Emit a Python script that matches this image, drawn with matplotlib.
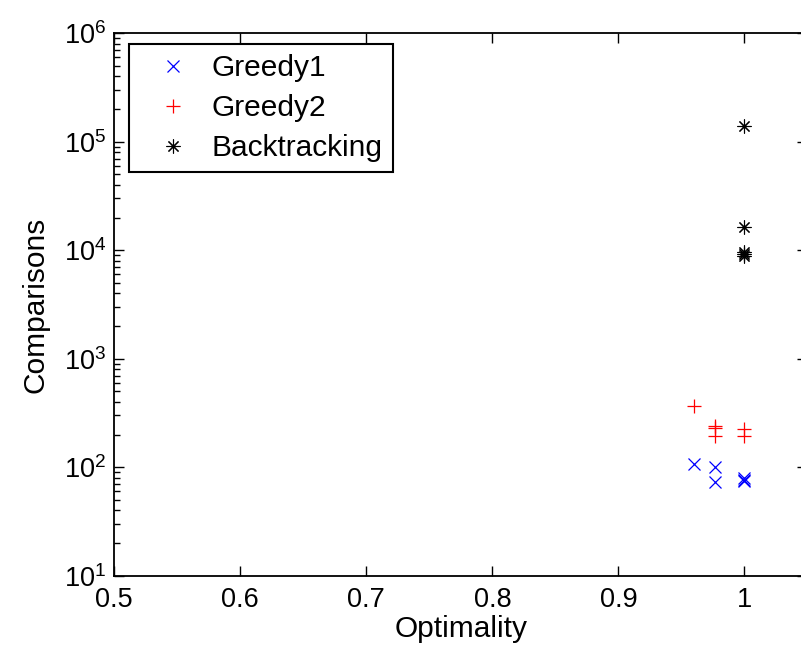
import numpy as np
import matplotlib
matplotlib.use('Agg')
import matplotlib.pyplot as plt
from matplotlib.ticker import LogLocator, NullFormatter

plt.rcParams['font.family'] = ['Liberation Sans', 'DejaVu Sans']
plt.rcParams['mathtext.fontset'] = 'custom'
plt.rcParams['mathtext.rm'] = 'Liberation Sans'
plt.rcParams['mathtext.it'] = 'Liberation Sans'

# Values
greedy1_x = [0.96, 0.977, 0.977, 1.0, 1.0, 1.0]
greedy1_y = [107, 101, 73, 75, 77, 79]
greedy2_x = [0.96, 0.977, 0.977, 0.977, 1.0, 1.0]
greedy2_y = [366, 240, 230, 194, 226, 193]
backtrack_x = [1.0, 1.0, 1.0, 1.0, 1.0]
backtrack_y = [140000, 16500, 9600, 9200, 8900]

fig = plt.figure(figsize=(8.01, 6.51), dpi=100)
# right edge of the axes runs just past the figure edge, as in the reference
ax = fig.add_axes([0.1427, 0.1157, 0.8652, 0.8332])

ax.plot(greedy1_x, greedy1_y, ls='none', marker='x', color='b',
        markersize=8, markeredgewidth=0.9, label='Greedy1')
ax.plot(greedy2_x, greedy2_y, ls='none', marker='+', color='r',
        markersize=9.5, markeredgewidth=0.9, label='Greedy2')
ax.plot(backtrack_x, backtrack_y, ls='none', marker=(8, 2, 0), color='k',
        markersize=10, markeredgewidth=0.8, label='Backtracking')

ax.set_yscale('log')
ax.set_xlim(0.5, 1.05)
ax.set_ylim(10, 1e6)
ax.set_xticks([0.5, 0.6, 0.7, 0.8, 0.9, 1.0])
ax.set_xticklabels(['0.5', '0.6', '0.7', '0.8', '0.9', '1'])
ax.yaxis.set_major_locator(LogLocator(base=10, numticks=10))
ax.yaxis.set_minor_locator(LogLocator(base=10, subs=np.arange(2, 10), numticks=20))
ax.yaxis.set_minor_formatter(NullFormatter())

ax.tick_params(which='both', direction='in', top=True, right=True,
               labelsize=19.5, width=1)
ax.tick_params(axis='x', pad=8.5)
ax.tick_params(axis='y', pad=6)
ax.tick_params(which='major', length=7)
ax.tick_params(which='minor', length=4)
for sp in ax.spines.values():
    sp.set_linewidth(1.3)

ax.set_xlabel('Optimality', fontsize=21.5, labelpad=1)
ax.set_ylabel('Comparisons', fontsize=21.5, labelpad=10)

leg = ax.legend(loc='upper left', bbox_to_anchor=(129 / 801, 1 - 44.3 / 651),
                bbox_transform=fig.transFigure, borderaxespad=0,
                fontsize=21.5, handlelength=2.29, handletextpad=0.15,
                borderpad=0.33, labelspacing=0.4, fancybox=False,
                framealpha=1, edgecolor='k')
leg.get_frame().set_linewidth(1.5)

fig.savefig('out.png', dpi=100)
